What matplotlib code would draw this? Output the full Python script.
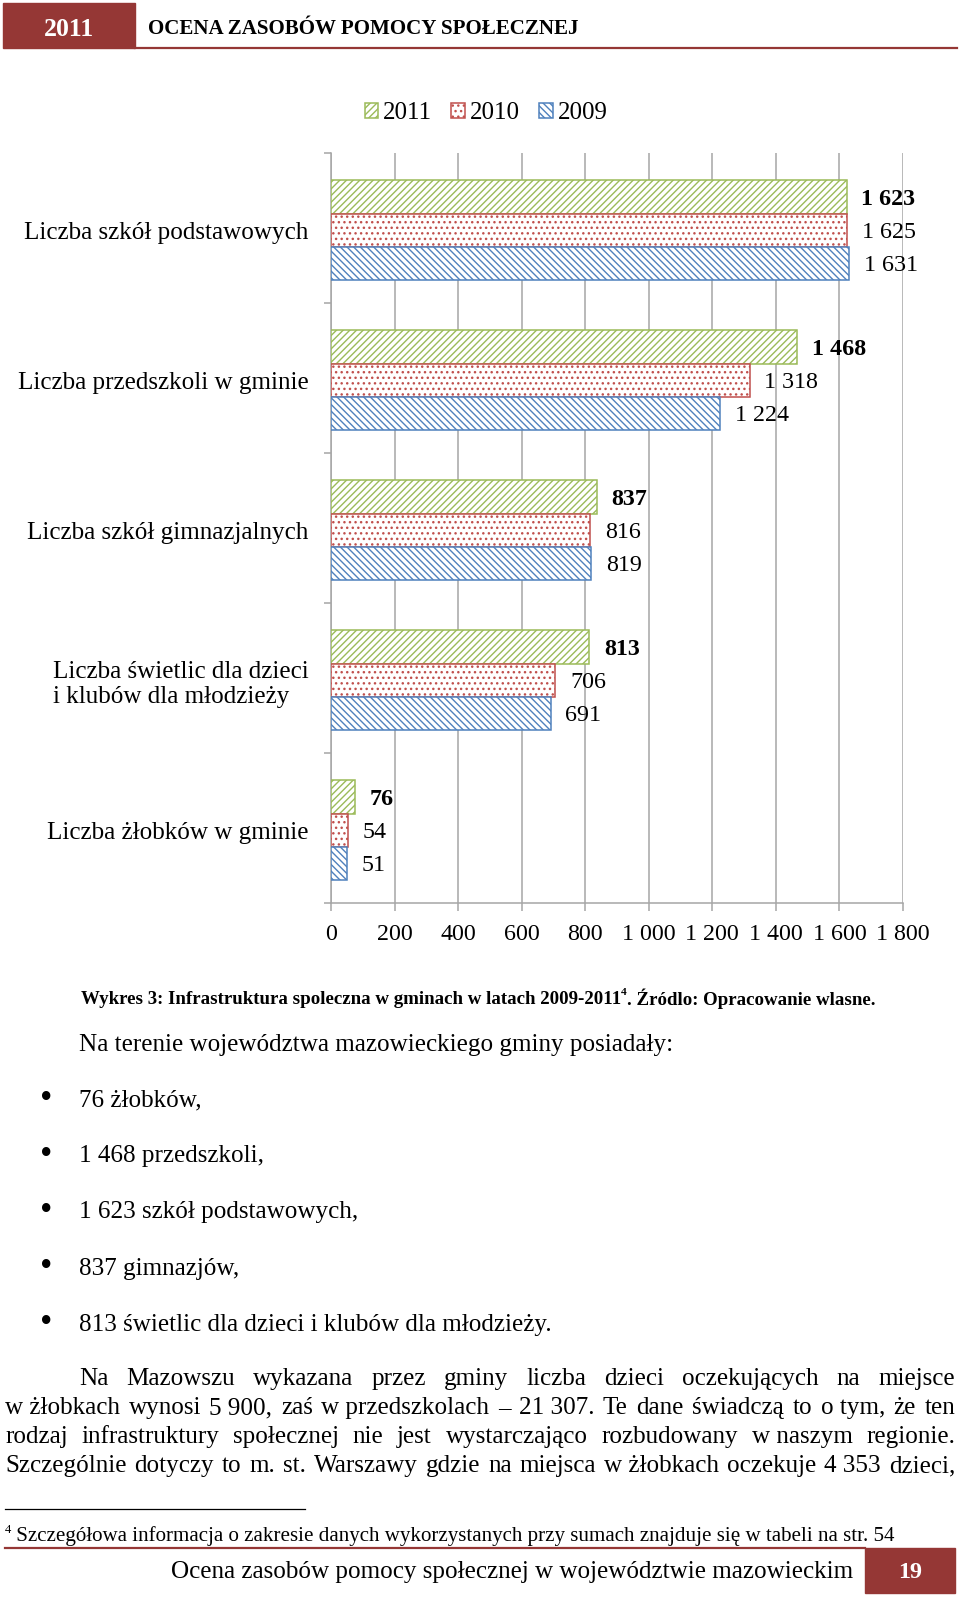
import matplotlib
matplotlib.use('Agg')
import matplotlib.pyplot as plt
import numpy as np
from matplotlib.patches import Rectangle
from matplotlib.lines import Line2D

# page size in pixels
W, H = 960, 1597

plt.rcParams['font.family'] = ['Liberation Serif', 'DejaVu Serif']
plt.rcParams['hatch.linewidth'] = 1.0

# data
categories = ['Liczba szkół podstawowych', 'Liczba przedszkoli w gminie',
              'Liczba szkół gimnazjalnych',
              'Liczba świetlic dla dzieci\ni klubów dla młodzieży',
              'Liczba żłobków w gminie']
years = ['2011', '2010', '2009']
v2011 = [1623, 1468, 837, 813, 76]
v2010 = [1625, 1318, 816, 706, 54]
v2009 = [1631, 1224, 819, 691, 51]
xticks = np.arange(0, 1801, 200)

RED = '#953735'
GREEN = '#9bbb59'
REDL = '#c0504d'
BLUE = '#4f81bd'
GRAY = '#a6a6a6'


def fmt(v):
    return f'{v:,}'.replace(',', ' ')


fig = plt.figure(figsize=(9.6, 15.97), dpi=100)
R = fig.canvas.get_renderer()


def fx(x):
    return x / W


def fy(y):
    return 1 - y / H


def width_of(s, size, **kw):
    t = fig.text(0, 0, s, fontsize=size, **kw)
    w = t.get_window_extent(R).width
    t.remove()
    return w


def fit(s, target, **kw):
    return 20 * target / width_of(s, 20, **kw)


def put(x, y, s, size, **kw):
    kw.setdefault('va', 'center')
    # small downward nudge: matplotlib centres on the full line box
    return fig.text(fx(x), fy(y + 3), s, fontsize=size, **kw)


def parts_width(parts, size, weight='normal'):
    total = 0
    for s, sc, dy in parts:
        total += width_of(s, size * sc, fontweight=weight)
    return total


def run(x, y, parts, size, weight='normal'):
    # lay out text pieces one after another (used for superscripts)
    for s, sc, dy in parts:
        put(x, y - dy * size, s, size * sc, fontweight=weight)
        x += width_of(s, size * sc, fontweight=weight)


def justify(line, x0, x1, y, size):
    words = line.split(' ')
    ws = [width_of(w, size) for w in words]
    gap = (x1 - x0 - sum(ws)) / (len(words) - 1)
    x = x0
    for w, wd in zip(words, ws):
        put(x, y, w, size)
        x += wd + gap


# header
fig.add_artist(Rectangle((fx(3), fy(48)), fx(135) - fx(3), fy(3) - fy(48),
                         transform=fig.transFigure, color=RED))
put(69, 26, '2011', fit('2011', 50, fontweight='bold'), color='white',
    fontweight='bold', ha='center')
put(148, 26, 'OCENA ZASOBÓW POMOCY SPOŁECZNEJ',
    fit('OCENA ZASOBÓW POMOCY SPOŁECZNEJ', 432, fontweight='bold'),
    fontweight='bold')
fig.add_artist(Line2D([fx(135), fx(957)], [fy(48), fy(48)], color=RED, lw=1.6))

# chart
lsz = fit('1 631', 54)
csz = fit(categories[0], 284)
ax = fig.add_axes([fx(331), fy(903), fx(903) - fx(331), (903 - 153) / H])
n = len(categories)
y = np.arange(n) + 0.015
h = 0.222
series = [(v2011, years[0], GREEN, '/////'),
          (v2010, years[1], REDL, '...'),
          (v2009, years[2], BLUE, '\\\\\\\\\\')]
handles = []
for k, (vals, lab, col, hatch) in enumerate(series):
    bars = ax.barh(y + (k - 1) * h, vals, height=h, facecolor='white',
                   edgecolor=col, hatch=hatch, lw=1.1, label=lab, zorder=3)
    handles.append(bars)
    for b, v in zip(bars, vals):
        ax.annotate(fmt(v), (v, b.get_y() + h / 2), xytext=(10.5, -1.5),
                    textcoords='offset points', va='center', ha='left',
                    fontsize=lsz, fontweight='bold' if k == 0 else 'normal')

ax.set_xlim(0, 1800)
ax.set_ylim(n - 0.5, -0.5)
ax.set_xticks(xticks)
ax.set_xticklabels([fmt(t) for t in xticks], fontsize=lsz)
ax.set_yticks(y)
ax.set_yticklabels(categories, fontsize=csz, multialignment='left')
ax.set_yticks(np.arange(-0.5, n, 1), minor=True)
ax.tick_params(axis='y', which='major', length=0, pad=16)
ax.tick_params(axis='y', which='minor', length=5, color=GRAY, width=1.1)
ax.tick_params(axis='x', length=6, color=GRAY, width=1.1, pad=9)
ax.xaxis.grid(True, color=GRAY, lw=1.1)
ax.set_axisbelow(True)
for side in ['top', 'right']:
    ax.spines[side].set_visible(False)
for side in ['left', 'bottom']:
    ax.spines[side].set_color(GRAY)
    ax.spines[side].set_linewidth(1.1)

fig.legend(handles, years, loc='center', bbox_to_anchor=(fx(486), fy(113)),
           ncol=3, frameon=False, fontsize=fit('2011', 49),
           handlelength=0.55, handleheight=0.55, handletextpad=0.2,
           columnspacing=0.75, borderpad=0)

# caption
cap = [('Wykres 3: Infrastruktura spoleczna w gminach w latach 2009-2011', 1, 0),
       ('4', 0.6, 0.45),
       ('. Źródlo: Opracowanie wlasne.', 1, 0)]
capsz = 20 * 795 / parts_width(cap, 20, 'bold')
run(81, 996, cap, capsz, 'bold')

# body text
bsz = fit('Na terenie województwa mazowieckiego gminy posiadały:', 593)
put(79, 1042, 'Na terenie województwa mazowieckiego gminy posiadały:', bsz)
items = ['76 żłobków,', '1 468 przedszkoli,', '1 623 szkół podstawowych,',
         '837 gimnazjów,', '813 świetlic dla dzieci i klubów dla młodzieży.']
for yy, it in zip([1097, 1153, 1209, 1266, 1322], items):
    put(46, yy - 1, '•', bsz * 1.4, ha='center')
    put(79, yy, it, bsz)

para = ['Na Mazowszu wykazana przez gminy liczba dzieci oczekujących na miejsce',
        'w\u00a0żłobkach wynosi 5\u00a0900, zaś w\u00a0przedszkolach – 21\u00a0307. '
        'Te dane świadczą to o\u00a0tym, że ten',
        'rodzaj infrastruktury społecznej nie jest wystarczająco rozbudowany '
        'w\u00a0naszym regionie.',
        'Szczególnie dotyczy to m. st. Warszawy gdzie na miejsca w\u00a0żłobkach '
        'oczekuje 4\u00a0353 dzieci,']
for i, (line, yy) in enumerate(zip(para, [1376, 1405, 1434, 1463])):
    justify(line, 79 if i == 0 else 5, 955, yy, bsz)

# footnote
fig.add_artist(Line2D([fx(5), fx(305)], [fy(1509), fy(1509)], color='black', lw=0.9))
fn = [('4', 0.6, 0.4),
      (' Szczegółowa informacja o zakresie danych wykorzystanych przy sumach '
       'znajduje się w tabeli na str. 54', 1, 0)]
fnsz = 20 * 889 / parts_width(fn, 20)
run(5, 1533, fn, fnsz)

# footer
fig.add_artist(Line2D([fx(5), fx(865)], [fy(1548), fy(1548)], color=RED, lw=1.6))
foot = 'Ocena zasobów pomocy społecznej w województwie mazowieckim'
put(853, 1569, foot, fit(foot, 682), ha='right')
fig.add_artist(Rectangle((fx(865), fy(1593)), fx(955) - fx(865), fy(1548) - fy(1593),
                         transform=fig.transFigure, color=RED))
put(910, 1570, '19', fit('19', 24, fontweight='bold'), color='white',
    fontweight='bold', ha='center')

fig.savefig('out.png', dpi=100)
